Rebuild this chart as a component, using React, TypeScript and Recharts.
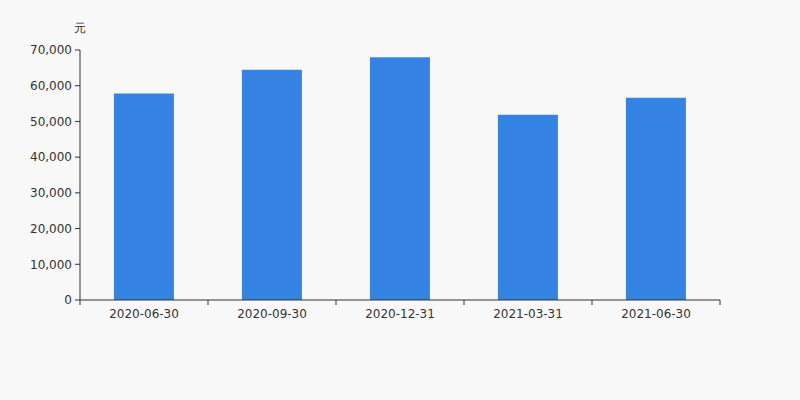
import { BarChart, Bar, XAxis, YAxis } from "recharts";

const categories = ["2020-06-30", "2020-09-30", "2020-12-31", "2021-03-31", "2021-06-30"];
const values = [57800, 64500, 68000, 51900, 56600];
const yTicks = [0, 10000, 20000, 30000, 40000, 50000, 60000, 70000];
const unit = "元";

const data = categories.map((date, i) => ({ date, value: values[i] }));

const W = 800;
const H = 400;
const LEFT = 80;
const RIGHT = 80;
const band = (W - LEFT - RIGHT) / categories.length;

const fmt = (v: number) => new Intl.NumberFormat("en-US").format(v);

// tick marks sit on the category boundaries, labels in the middle
const XTick = (props: any) => {
    const { x, y, payload, index } = props;
    const half = band / 2;
    return (
        <g>
            <line x1={x - half} y1={y} x2={x - half} y2={y + 5} stroke="#333" />
            {index === categories.length - 1 && (
                <line x1={x + half} y1={y} x2={x + half} y2={y + 5} stroke="#333" />
            )}
            <text x={x} y={y + 18} textAnchor="middle" fill="#333" fontSize={12}>
                {payload.value}
            </text>
        </g>
    );
};

export default function App() {
    return (
        <div
            style={{
                position: "fixed",
                left: 0,
                top: 0,
                width: W,
                height: H,
                background: "#f8f8f8",
                fontFamily: "DejaVu Sans, sans-serif",
            }}
        >
            <span style={{ position: "absolute", left: 74, top: 20, fontSize: 12, color: "#333" }}>{unit}</span>
            <BarChart
                width={W}
                height={H}
                data={data}
                margin={{ top: 50, right: RIGHT, bottom: 0, left: 0 }}
                barCategoryGap="26.5%"
            >
                <XAxis
                    dataKey="date"
                    height={100}
                    stroke="#333"
                    tickLine={false}
                    tickSize={0}
                    tickMargin={0}
                    interval={0}
                    tick={<XTick />}
                />
                <YAxis
                    width={LEFT}
                    domain={[0, 70000]}
                    ticks={yTicks}
                    tickFormatter={fmt}
                    stroke="#333"
                    tickSize={5}
                    tickMargin={3}
                    tick={{ fill: "#333", fontSize: 12 }}
                    interval={0}
                />
                <Bar dataKey="value" fill="#3483e3" isAnimationActive={false} />
            </BarChart>
        </div>
    );
}
